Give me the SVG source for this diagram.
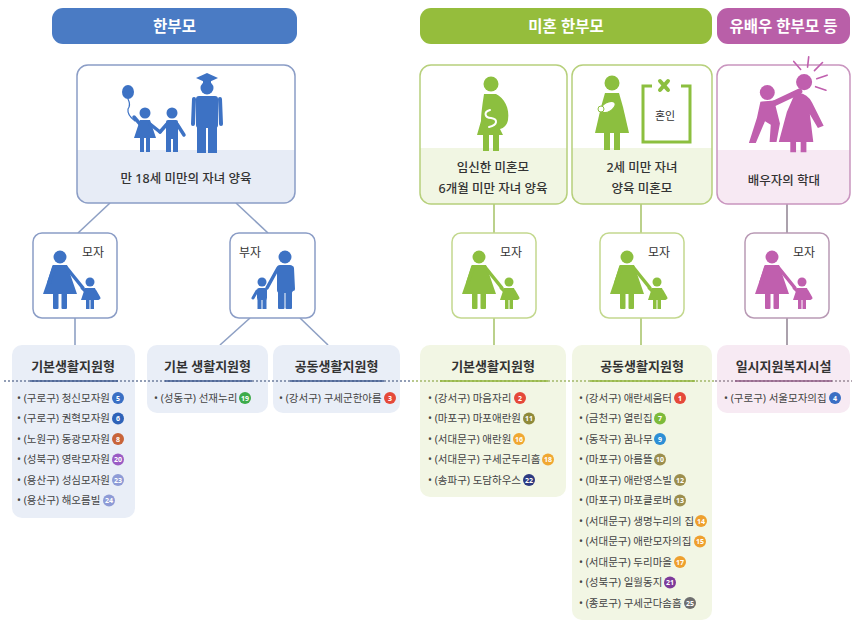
<svg xmlns="http://www.w3.org/2000/svg" width="852" height="623" viewBox="0 0 852 623">
  <style>
    .hdr { font-family: "Noto Sans", "Noto Sans CJK KR", sans-serif; font-size: 15.5px; font-weight: 700; fill: #ffffff; text-anchor: middle; }
    .cap { font-family: "Noto Sans", "Noto Sans CJK KR", sans-serif; font-size: 12.5px; font-weight: 500; fill: #333333; text-anchor: middle; }
    .lbl { font-family: "Noto Sans", "Noto Sans CJK KR", sans-serif; font-size: 12px; fill: #333333; text-anchor: middle; }
    .ttl { font-family: "Noto Sans", "Noto Sans CJK KR", sans-serif; font-size: 13px; font-weight: 700; fill: #333333; text-anchor: middle; }
    .item { font-family: "Noto Sans", "Noto Sans CJK KR", sans-serif; font-size: 10.5px; fill: #444444; }
    .num { font-family: "Noto Sans", "Liberation Sans", sans-serif; font-size: 7px; font-weight: 700; fill: #ffffff; text-anchor: middle; }
    .conn-b { stroke: #8ea0c4; stroke-width: 1.6; fill: none; }
    .conn-g { stroke: #aac66e; stroke-width: 1.6; fill: none; }
    .conn-p { stroke: #968a98; stroke-width: 1.6; fill: none; }
    .dot { stroke-width: 1.3; stroke-dasharray: 2 2; fill: none; }
    .ln { stroke-linecap: round; fill: none; }
  </style>
  <defs>
    <!-- mother holding a child's hand, drawn in a 84x85 cell -->
    <g id="mom-child">
      <circle cx="27" cy="24" r="6.5" fill="currentColor"/>
      <path d="M20,32 h14 l10,29 h-34 z" fill="currentColor"/>
      <line class="ln" x1="21" y1="34" x2="16" y2="50" stroke="currentColor" stroke-width="4"/>
      <line class="ln" x1="33" y1="34" x2="50" y2="55" stroke="currentColor" stroke-width="3.5"/>
      <rect x="20" y="59" width="5.5" height="17" rx="1" fill="currentColor"/>
      <rect x="28.5" y="59" width="5.5" height="17" rx="1" fill="currentColor"/>
      <circle cx="57" cy="49" r="4.5" fill="currentColor"/>
      <path d="M52,55 h10 l4,12 h-18 z" fill="currentColor"/>
      <rect x="53" y="66" width="3.5" height="10" fill="currentColor"/>
      <rect x="57.5" y="66" width="3.5" height="10" fill="currentColor"/>
      <line class="ln" x1="52" y1="58" x2="49" y2="55" stroke="currentColor" stroke-width="3"/>
      <line class="ln" x1="62" y1="58" x2="66" y2="65" stroke="currentColor" stroke-width="3"/>
    </g>
    <!-- father holding a child's hand -->
    <g id="dad-child">
      <circle cx="55" cy="24" r="6.5" fill="currentColor"/>
      <rect x="47" y="32" width="16" height="28" rx="3" fill="currentColor"/>
      <rect x="48" y="58" width="6.5" height="18" rx="1" fill="currentColor"/>
      <rect x="55.5" y="58" width="6.5" height="18" rx="1" fill="currentColor"/>
      <line class="ln" x1="48" y1="35" x2="37" y2="55" stroke="currentColor" stroke-width="3.5"/>
      <line class="ln" x1="62" y1="35" x2="63" y2="56" stroke="currentColor" stroke-width="4"/>
      <circle cx="32" cy="49" r="4.5" fill="currentColor"/>
      <rect x="27" y="55" width="10" height="12" rx="2" fill="currentColor"/>
      <rect x="27.5" y="66" width="4" height="10" fill="currentColor"/>
      <rect x="32.5" y="66" width="4" height="10" fill="currentColor"/>
      <line class="ln" x1="27" y1="58" x2="23" y2="65" stroke="currentColor" stroke-width="3"/>
    </g>
  </defs>

  <rect width="852" height="623" fill="#ffffff"/>

  <!-- section headers -->
  <g id="hdr-single">
    <rect x="52" y="8" width="245" height="36" rx="11" fill="#4a7bc4"/>
    <text class="hdr" x="174.5" y="31.5">한부모</text>
  </g>
  <g id="hdr-unwed">
    <rect x="420" y="8" width="292" height="36" rx="11" fill="#95bd3c"/>
    <text class="hdr" x="566" y="31.5">미혼 한부모</text>
  </g>
  <g id="hdr-married">
    <rect x="717" y="8" width="133" height="36" rx="11" fill="#b95fa8"/>
    <text class="hdr" x="783.5" y="31.5">유배우 한부모 등</text>
  </g>

  <!-- connectors -->
  <g id="connectors">
    <line class="conn-b" x1="110" y1="203" x2="78" y2="233"/>
    <line class="conn-b" x1="236" y1="203" x2="268" y2="233"/>
    <line class="conn-b" x1="75" y1="318" x2="75" y2="345"/>
    <line class="conn-b" x1="250" y1="318" x2="220" y2="345"/>
    <line class="conn-b" x1="300" y1="318" x2="328" y2="345"/>
    <line class="conn-g" x1="494" y1="204" x2="494" y2="233"/>
    <line class="conn-g" x1="494" y1="318" x2="494" y2="345"/>
    <line class="conn-g" x1="641" y1="204" x2="641" y2="233"/>
    <line class="conn-g" x1="641" y1="318" x2="641" y2="345"/>
    <line class="conn-p" x1="787" y1="204" x2="787" y2="233"/>
    <line class="conn-p" x1="787" y1="318" x2="787" y2="345"/>
  </g>

  <!-- top: children under 18 -->
  <g id="n-under18">
    <rect x="77" y="65" width="218" height="138" rx="11" fill="#ffffff"/>
    <path d="M77,150 H295 V192 a11,11 0 0 1 -11,11 H88 a11,11 0 0 1 -11,-11 Z" fill="#e7ecf6"/>
    <rect x="77" y="65" width="218" height="138" rx="11" fill="none" stroke="#8b9dc6" stroke-width="1.5"/>
    <g fill="#3d72c4">
      <ellipse cx="128" cy="92" rx="6" ry="7"/>
      <path class="ln" d="M128,99 q3,6 0,10 q-1,6 7,12" stroke="#3d72c4" stroke-width="1.2"/>
      <circle cx="145" cy="113" r="5.5"/>
      <line class="ln" x1="140" y1="124" x2="134" y2="117" stroke="#3d72c4" stroke-width="3.5"/>
      <path d="M140,120 h10 l6,18 h-22 z"/>
      <rect x="140" y="137" width="4" height="15"/>
      <rect x="146" y="137" width="4" height="15"/>
      <line class="ln" x1="150" y1="124" x2="160" y2="132" stroke="#3d72c4" stroke-width="3.5"/>
      <circle cx="172" cy="113" r="5.5"/>
      <rect x="166" y="120" width="12" height="19" rx="2"/>
      <rect x="166" y="137" width="5" height="15"/>
      <rect x="173" y="137" width="5" height="15"/>
      <line class="ln" x1="167" y1="124" x2="160" y2="132" stroke="#3d72c4" stroke-width="3.5"/>
      <line class="ln" x1="177" y1="124" x2="184" y2="135" stroke="#3d72c4" stroke-width="3.5"/>
      <polygon points="196,78 207,73 218,78 207,83"/>
      <rect x="203" y="80" width="8" height="4"/>
      <circle cx="207" cy="88" r="6.5"/>
      <rect x="196" y="96" width="22" height="32" rx="3"/>
      <rect x="197" y="126" width="9" height="27"/>
      <rect x="208" y="126" width="9" height="27"/>
      <line class="ln" x1="194" y1="99" x2="193" y2="124" stroke="#3d72c4" stroke-width="4"/>
      <line class="ln" x1="220" y1="99" x2="221" y2="124" stroke="#3d72c4" stroke-width="4"/>
    </g>
    <text class="cap" x="186" y="183">만 18세 미만의 자녀 양육</text>
  </g>

  <!-- top: pregnant unwed mother -->
  <g id="n-pregnant">
    <rect x="420" y="65" width="147" height="139" rx="11" fill="#ffffff"/>
    <path d="M420,148 H567 V193 a11,11 0 0 1 -11,11 H431 a11,11 0 0 1 -11,-11 Z" fill="#f1f6e3"/>
    <rect x="420" y="65" width="147" height="139" rx="11" fill="none" stroke="#b7d07c" stroke-width="1.5"/>
    <g fill="#8cbf3f">
      <circle cx="491" cy="84" r="7.5"/>
      <path d="M484,94 h12 c8,4 14,14 12,26 c-1,5 -4,8 -8,9 l3,6 h-26 l4,-14 c0,-6 1,-14 3,-27 z"/>
      <rect x="483" y="132" width="6" height="19"/>
      <rect x="493" y="132" width="6" height="19"/>
    </g>
    <path class="ln" d="M490,110 c-7,2 -5,8 1,8 c7,1 7,7 -2,9" stroke="#ffffff" stroke-width="2"/>
    <text class="cap" x="493" y="172">임신한 미혼모</text>
    <text class="cap" x="493" y="193">6개월 미만 자녀 양육</text>
  </g>

  <!-- top: unwed mother with infant -->
  <g id="n-infant">
    <rect x="572" y="65" width="140" height="139" rx="11" fill="#ffffff"/>
    <path d="M572,148 H712 V193 a11,11 0 0 1 -11,11 H583 a11,11 0 0 1 -11,-11 Z" fill="#f1f6e3"/>
    <rect x="572" y="65" width="140" height="139" rx="11" fill="none" stroke="#b7d07c" stroke-width="1.5"/>
    <g fill="#8cbf3f">
      <circle cx="612" cy="83" r="7.5"/>
      <path d="M605,93 h14 l4,14 l6,26 h-34 l6,-26 z"/>
      <rect x="604" y="131" width="6" height="19"/>
      <rect x="614" y="131" width="6" height="19"/>
    </g>
    <ellipse cx="608" cy="107" rx="8" ry="4.5" transform="rotate(-30 608 107)" fill="#ffffff" stroke="#8cbf3f" stroke-width="1.2"/>
    <circle cx="601" cy="109" r="3" fill="#ffffff" stroke="#8cbf3f" stroke-width="1"/>
    <path d="M652,86 h-9 v56 h47 v-56 h-9" stroke="#8cbf3f" stroke-width="3" fill="none"/>
    <line class="ln" x1="660" y1="81" x2="668" y2="90" stroke="#8cbf3f" stroke-width="4"/>
    <line class="ln" x1="668" y1="81" x2="660" y2="90" stroke="#8cbf3f" stroke-width="4"/>
    <text class="lbl" x="665" y="120" style="font-size:11px">혼인</text>
    <text class="cap" x="642" y="172">2세 미만 자녀</text>
    <text class="cap" x="642" y="193">양육 미혼모</text>
  </g>

  <!-- top: spousal abuse -->
  <g id="n-abuse">
    <rect x="717" y="65" width="133" height="139" rx="11" fill="#ffffff"/>
    <path d="M717,150 H850 V193 a11,11 0 0 1 -11,11 H728 a11,11 0 0 1 -11,-11 Z" fill="#f7e9f3"/>
    <rect x="717" y="65" width="133" height="139" rx="11" fill="none" stroke="#c995bf" stroke-width="1.5"/>
    <g transform="translate(788 112) scale(1.15) translate(-788 -112)">
      <g fill="#c05fae">
        <circle cx="770" cy="95" r="6.5"/>
        <path d="M764,103 l12,-1 l5,20 l-3,16 h-6 l1,-15 l-5,-3 l-8,19 h-6 l7,-22 z"/>
        <line class="ln" x1="775" y1="105" x2="798" y2="94" stroke="#c05fae" stroke-width="5"/>
        <circle cx="802" cy="86" r="7"/>
        <path d="M794,96 q10,-2 15,8 l10,20 l-5,2 l-7,-12 l3,24 h-30 l7,-26 z"/>
        <rect x="790" y="136" width="5" height="11"/>
        <rect x="799" y="136" width="5" height="11"/>
      </g>
      <g stroke="#c05fae" stroke-width="1.4" class="ln">
        <line x1="799" y1="75" x2="793" y2="68"/>
        <line x1="805" y1="73" x2="806" y2="64"/>
        <line x1="811" y1="76" x2="818" y2="69"/>
        <line x1="813" y1="83" x2="822" y2="80"/>
        <line x1="812" y1="90" x2="821" y2="93"/>
      </g>
    </g>
    <text class="cap" x="784" y="185">배우자의 학대</text>
  </g>

  <!-- second row -->
  <g id="n-mom-b">
    <rect x="33" y="233" width="84" height="85" rx="9" fill="#ffffff" stroke="#8b9dc6" stroke-width="1.5"/>
    <use href="#mom-child" x="33" y="233" style="color:#3d72c4"/>
    <text class="lbl" x="93" y="257">모자</text>
  </g>
  <g id="n-dad-b">
    <rect x="230" y="233" width="85" height="85" rx="9" fill="#ffffff" stroke="#8b9dc6" stroke-width="1.5"/>
    <use href="#dad-child" x="230" y="233" style="color:#3d72c4"/>
    <text class="lbl" x="250" y="257">부자</text>
  </g>
  <g id="n-mom-g1">
    <rect x="452" y="233" width="84" height="85" rx="9" fill="#ffffff" stroke="#c3d88e" stroke-width="1.5"/>
    <use href="#mom-child" x="452" y="233" style="color:#8cbf3f"/>
    <text class="lbl" x="511" y="257">모자</text>
  </g>
  <g id="n-mom-g2">
    <rect x="600" y="233" width="84" height="85" rx="9" fill="#ffffff" stroke="#c3d88e" stroke-width="1.5"/>
    <use href="#mom-child" x="600" y="233" style="color:#8cbf3f"/>
    <text class="lbl" x="659" y="257">모자</text>
  </g>
  <g id="n-mom-p">
    <rect x="745" y="233" width="84" height="85" rx="9" fill="#ffffff" stroke="#b99ab5" stroke-width="1.5"/>
    <use href="#mom-child" x="745" y="233" style="color:#c05fae"/>
    <text class="lbl" x="804" y="257">모자</text>
  </g>

  <!-- facility lists -->
  <g id="l-basic-mom">
    <rect x="12" y="345" width="123" height="173" rx="10" fill="#e9eef7"/>
    <text class="ttl" x="73" y="371">기본생활지원형</text>
  </g>
  <g id="l-basic-dad">
    <rect x="147" y="345" width="121" height="68" rx="10" fill="#e9eef7"/>
    <text class="ttl" x="207.5" y="371">기본 생활지원형</text>
  </g>
  <g id="l-shared-dad">
    <rect x="273" y="345" width="127" height="68" rx="10" fill="#e9eef7"/>
    <text class="ttl" x="336.5" y="371">공동생활지원형</text>
  </g>
  <g id="l-basic-unwed">
    <rect x="420" y="345" width="146" height="152" rx="10" fill="#f2f6e4"/>
    <text class="ttl" x="493" y="371">기본생활지원형</text>
  </g>
  <g id="l-shared-unwed">
    <rect x="572" y="345" width="140" height="275" rx="10" fill="#f2f6e4"/>
    <text class="ttl" x="642" y="371">공동생활지원형</text>
  </g>
  <g id="l-temp">
    <rect x="717" y="345" width="133" height="68" rx="10" fill="#f7eaf3"/>
    <text class="ttl" x="783.5" y="371">일시지원복지시설</text>
  </g>

  <!-- separators under list titles -->
  <g id="separators">
    <line class="dot" x1="4" y1="381" x2="412" y2="381" stroke="#6f7f9f"/>
    <line x1="30" y1="381" x2="118" y2="381" stroke="#3f5a8f" stroke-width="1.3"/>
    <line x1="165" y1="381" x2="252" y2="381" stroke="#3f5a8f" stroke-width="1.3"/>
    <line x1="290" y1="381" x2="384" y2="381" stroke="#3f5a8f" stroke-width="1.3"/>
    <line class="dot" x1="412" y1="381" x2="715" y2="381" stroke="#a3b86a"/>
    <line x1="440" y1="381" x2="548" y2="381" stroke="#8fb33a" stroke-width="1.3"/>
    <line x1="590" y1="381" x2="695" y2="381" stroke="#8fb33a" stroke-width="1.3"/>
    <line class="dot" x1="715" y1="381" x2="852" y2="381" stroke="#9a8a98"/>
    <line x1="735" y1="381" x2="832" y2="381" stroke="#8f5a85" stroke-width="1.3"/>
  </g>

  <!-- list entries -->
  <g id="items">
    <text class="item" x="17" y="401.5">• (구로구) 청신모자원</text>
    <text class="item" x="17" y="422">• (구로구) 권혁모자원</text>
    <text class="item" x="17" y="442.5">• (노원구) 동광모자원</text>
    <text class="item" x="17" y="463">• (성북구) 영락모자원</text>
    <text class="item" x="17" y="483.5">• (용산구) 성심모자원</text>
    <text class="item" x="17" y="504">• (용산구) 해오름빌</text>

    <text class="item" x="154" y="401.5">• (성동구) 선재누리</text>
    <text class="item" x="279" y="401.5">• (강서구) 구세군한아름</text>

    <text class="item" x="428" y="401.5">• (강서구) 마음자리</text>
    <text class="item" x="428" y="422">• (마포구) 마포애란원</text>
    <text class="item" x="428" y="442.5">• (서대문구) 애란원</text>
    <text class="item" x="428" y="463">• (서대문구) 구세군두리홈</text>
    <text class="item" x="428" y="483.5">• (송파구) 도담하우스</text>

    <text class="item" x="579" y="401.5">• (강서구) 애란세움터</text>
    <text class="item" x="579" y="422">• (금천구) 열린집</text>
    <text class="item" x="579" y="442.5">• (동작구) 꿈나무</text>
    <text class="item" x="579" y="463">• (마포구) 아름뜰</text>
    <text class="item" x="579" y="483.5">• (마포구) 애란영스빌</text>
    <text class="item" x="579" y="504">• (마포구) 마포클로버</text>
    <text class="item" x="579" y="524.5">• (서대문구) 생명누리의 집</text>
    <text class="item" x="579" y="545">• (서대문구) 애란모자의집</text>
    <text class="item" x="579" y="565.5">• (서대문구) 두리마을</text>
    <text class="item" x="579" y="586">• (성북구) 일월동지</text>
    <text class="item" x="579" y="606.5">• (종로구) 구세군다솜홈</text>

    <text class="item" x="724" y="401.5">• (구로구) 서울모자의집</text>
  </g>

  <!-- numbered badges -->
  <g id="badges">
    <circle cx="118" cy="398" r="6" fill="#3a6fc4"/><text class="num" x="118" y="400.5">5</text>
    <circle cx="118" cy="418.5" r="6" fill="#2e62b8"/><text class="num" x="118" y="421">6</text>
    <circle cx="118" cy="439" r="6" fill="#c8643a"/><text class="num" x="118" y="441.5">8</text>
    <circle cx="118" cy="459.5" r="6" fill="#9b5cc4"/><text class="num" x="118" y="462">20</text>
    <circle cx="118" cy="480" r="6" fill="#8e9bd6"/><text class="num" x="118" y="482.5">23</text>
    <circle cx="109" cy="500.5" r="6" fill="#8e9bd6"/><text class="num" x="109" y="503">24</text>

    <circle cx="245" cy="398" r="6" fill="#3dab4a"/><text class="num" x="245" y="400.5">19</text>
    <circle cx="390" cy="398" r="6" fill="#e5493a"/><text class="num" x="390" y="400.5">3</text>

    <circle cx="520" cy="398" r="6" fill="#e5493a"/><text class="num" x="520" y="400.5">2</text>
    <circle cx="529" cy="418.5" r="6" fill="#8f8a3a"/><text class="num" x="529" y="421">11</text>
    <circle cx="519" cy="439" r="6" fill="#f0a832"/><text class="num" x="519" y="441.5">16</text>
    <circle cx="548" cy="459.5" r="6" fill="#f0a832"/><text class="num" x="548" y="462">18</text>
    <circle cx="529" cy="480" r="6" fill="#2d3a80"/><text class="num" x="529" y="482.5">22</text>

    <circle cx="680" cy="398" r="6" fill="#e5493a"/><text class="num" x="680" y="400.5">1</text>
    <circle cx="660" cy="418.5" r="6" fill="#7dbb3a"/><text class="num" x="660" y="421">7</text>
    <circle cx="660" cy="439" r="6" fill="#2d8fd5"/><text class="num" x="660" y="441.5">9</text>
    <circle cx="660" cy="459.5" r="6" fill="#9c8f4e"/><text class="num" x="660" y="462">10</text>
    <circle cx="680" cy="480" r="6" fill="#9c8f4e"/><text class="num" x="680" y="482.5">12</text>
    <circle cx="680" cy="500.5" r="6" fill="#9c8f4e"/><text class="num" x="680" y="503">13</text>
    <circle cx="701" cy="521" r="6" fill="#eea02e"/><text class="num" x="701" y="523.5">14</text>
    <circle cx="700" cy="541.5" r="6" fill="#eea02e"/><text class="num" x="700" y="544">15</text>
    <circle cx="680" cy="562" r="6" fill="#eea02e"/><text class="num" x="680" y="564.5">17</text>
    <circle cx="670" cy="582.5" r="6" fill="#7e3a9a"/><text class="num" x="670" y="585">21</text>
    <circle cx="690" cy="603" r="6" fill="#6e6e6e"/><text class="num" x="690" y="605.5">25</text>

    <circle cx="835" cy="398" r="6" fill="#3a6fc4"/><text class="num" x="835" y="400.5">4</text>
  </g>
</svg>
